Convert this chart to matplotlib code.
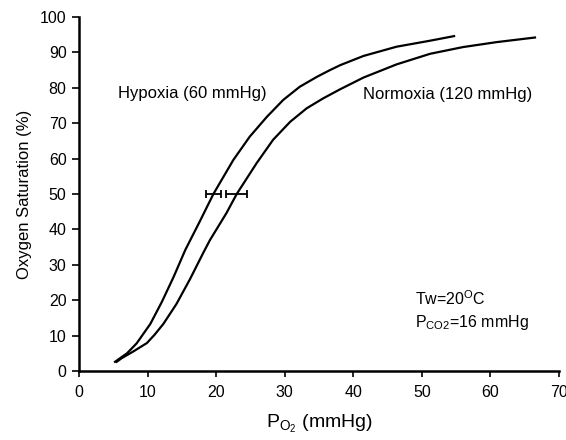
import matplotlib
matplotlib.use("Agg")
import matplotlib.pyplot as plt

# Oxygen dissociation curves
hypoxia_po2 = [5.25, 7.0, 8.4, 10.4, 12.1, 13.8, 15.5, 17.6, 19.6, 22.5,
               24.9, 27.4, 29.8, 32.2, 34.7, 36.6, 38.1, 41.5, 46.3, 51.2,
               54.7]
hypoxia_sat = [2.6, 5.0, 7.8, 13.3, 19.6, 26.6, 34.2, 42.2, 50.0, 59.6,
               66.2, 71.8, 76.6, 80.3, 83.1, 85.0, 86.4, 89.0, 91.6, 93.3,
               94.6]

normoxia_po2 = [5.5, 6.2, 7.9, 9.9, 11.0, 12.3, 14.2, 16.2, 18.1, 19.1,
                21.5, 23.0, 25.9, 28.3, 30.8, 33.2, 35.6, 38.1, 41.5, 46.3,
                51.2, 56.0, 60.9, 66.5]
normoxia_sat = [2.6, 3.6, 5.5, 7.9, 10.2, 13.3, 18.9, 26.0, 33.3, 37.0,
                44.6, 50.0, 58.7, 65.3, 70.4, 74.2, 77.0, 79.6, 82.9, 86.6,
                89.6, 91.5, 92.9, 94.2]

# P50 with horizontal error bars
p50_x = [19.6, 23.0]
p50_y = [50.0, 50.0]
p50_err = [1.1, 1.5]

x_ticks = [0, 10, 20, 30, 40, 50, 60, 70]
y_ticks = [0, 10, 20, 30, 40, 50, 60, 70, 80, 90, 100]

plt.rcParams["font.family"] = ["Liberation Sans", "DejaVu Sans"]

fig = plt.figure(figsize=(5.66, 4.40), dpi=100)
ax = fig.add_axes([0.1396, 0.1568, 0.848, 0.8046])

ax.plot(hypoxia_po2, hypoxia_sat, color="black", lw=1.6,
        solid_joinstyle="round")
ax.plot(normoxia_po2, normoxia_sat, color="black", lw=1.6,
        solid_joinstyle="round")
ax.errorbar(p50_x, p50_y, xerr=p50_err, fmt="none", ecolor="black",
            elinewidth=1.3, capsize=3, capthick=1.3)

ax.set_xlim(0, 70)
ax.set_ylim(0, 100)
ax.set_xticks(x_ticks)
ax.set_yticks(y_ticks)
for side in ("top", "right"):
    ax.spines[side].set_visible(False)
for side in ("left", "bottom"):
    ax.spines[side].set_linewidth(1.8)
ax.tick_params(axis="both", direction="out", length=4, width=1.2,
               labelsize=11.5, pad=6)
ax.tick_params(axis="y", length=5, pad=4)

ax.set_ylabel("Oxygen Saturation (%)", fontsize=12, labelpad=6)
ax.set_xlabel(r"P$_{\mathregular{O_2}}$ (mmHg)", fontsize=14, labelpad=9)

ax.text(5.7, 78.5, "Hypoxia (60 mmHg)", fontsize=12, va="center", ha="left")
ax.text(41.4, 78.0, "Normoxia (120 mmHg)", fontsize=12, va="center", ha="left")
ax.text(49.0, 20.3, r"Tw=20$^{\mathregular{O}}$C", fontsize=11.5,
        va="center", ha="left")
ax.text(49.0, 13.8, r"P$_{\mathregular{CO2}}$=16 mmHg", fontsize=11.5,
        va="center", ha="left")

fig.savefig("out.png", dpi=100)
